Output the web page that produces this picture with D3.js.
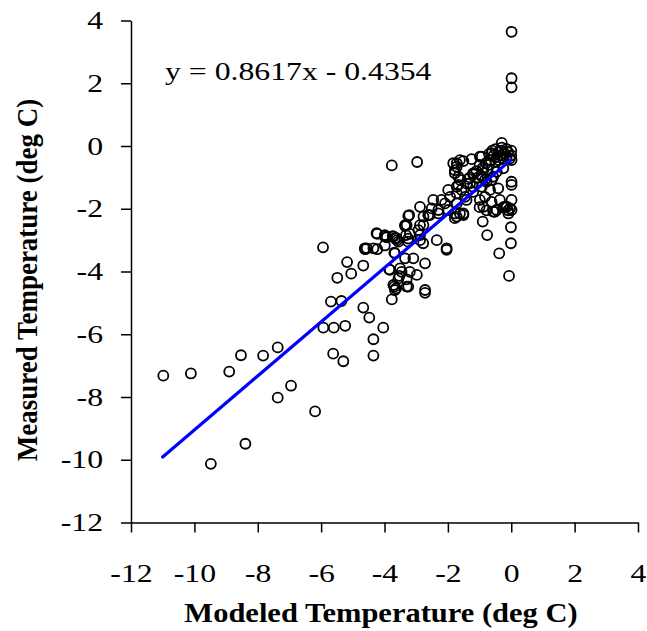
<!doctype html>
<head>
  <script src="https://cdn.jsdelivr.net/npm/d3@7/dist/d3.min.js" charset="utf-8"></script>
</head>

<style type="text/css">
  body { margin: 0; background: #fff; }
  text { font-family: 'Liberation Serif', 'Times New Roman', serif; fill: #000; }
  .axis path, .axis line { stroke: #000; stroke-width: 1.5px; }
  .tick_label { font-size: 25px; }
  .title { font-size: 27px; font-weight: bold; }
</style>

<body>
<svg width="647" height="631"></svg>
<script>

// data ---------------------------------------------------------------
var modeled = [
  -10.98, -10.11, -8.90, -8.53, -7.83, -7.37, -7.37, -6.95, -6.19, -8.39, -9.48,
  -5.62, -5.30, -5.93, -5.60, -5.24, -5.69, -5.36, -5.94, -5.18, -5.49, -5.05,
  -4.67, -4.61, -4.23, -4.23, -3.99, -3.93, -3.74, -3.60, -3.69, -3.35, -3.32, -3.46, -3.53, -3.69, -3.85, -3.77, -3.64, -3.30, -3.30,
  -4.67, -4.48, -4.04, -4.35, -4.35,
  -3.77, -2.97,
  0.01, 0.01, 0.01, -0.30,
  0.01, 0.01, 0.01, 0.01, -0.04, 0.01, -0.01, -0.01, -0.07, -0.38, -0.76, -0.90,
  -0.88, -0.57, -0.20, -1.72, -1.51, -2.04,
  -3.22, -3.30, -2.77, -2.57, -2.30, -1.78, -3.99, -3.67, -3.56, -3.25, -2.88, -2.35, -3.67, -3.35, -3.09, -2.72, -3.51, -3.20, -3.83, -2.98, -3.56, -3.25, -3.72, -3.67, -2.72, -2.72,
  -1.72, -1.51, -1.25, -0.93, -1.78, -1.67, -1.36, -1.67, -1.99, -1.57, -1.93, -1.41, -1.72, -2.46, -2.30, -2.88, -2.62, -3.25, -3.35, -2.88, -1.99, -1.78, -1.51,
  -1.00, -0.78, -0.52, -0.25, -0.10, -0.67, -0.41, -0.36, -0.78, -0.62,
  -4.25, -4.62, -4.35, -3.99, -3.72, -3.25, -3.20, -2.88, -2.78,
  -0.60, -0.50, -0.40, -0.30, -0.20, -0.10, 0.00, -0.55, -0.45, -0.35, -0.25, -0.15, -0.05, -0.65, -0.50, -0.40, -0.70, -0.30, -0.15, 0.00,
  -1.00, -0.90, -0.80, -0.75, -0.70, -1.10, -1.20, -1.30, -1.05, -0.95, -1.40, -1.20,
  -1.20, -1.46, -1.72, -1.09, -0.83, -0.57,
  -1.83, -1.62, -0.99, -0.62,
  -1.72, -1.78, -1.62, -1.72, -2.20, -2.09, -2.51, -2.77, -2.93, -3.62, -4.56, -2.04, -1.62,
  -0.99, -0.83, -0.62, -0.46, -0.14, -0.09, -0.93, -1.20, -0.88, -0.46, -0.25, -1.30
];

var measured = [
  -7.32, -7.25, -7.19, -6.67, -6.68, -6.42, -8.02, -7.64, -8.46, -9.49, -10.13,
  -6.62, -6.86, -5.79, -5.79, -5.73, -4.96, -4.94, -3.23, -3.70, -4.20, -4.07,
  -3.81, -3.29, -2.80, -3.29, -3.17, -2.91, -2.87, -3.00, -3.40, -2.55, -2.84, -4.01, -4.14, -4.48, -3.93, -4.89, -4.54, -4.48, -4.25,
  -5.15, -5.47, -5.79, -6.16, -6.68,
  -0.62, -0.51,
  3.64, 2.16, 1.87, 0.10,
  -0.45, -1.14, -1.24, -1.72, -1.99, -2.04, -2.59, -3.10, -4.14, -3.42, -2.84, -2.41,
  -1.94, -2.09, -1.94, -2.25, -2.15, -3.31,
  -2.20, -2.52, -2.52, -2.20, -2.15, -2.30, -2.84, -2.94, -3.05, -3.05, -2.84, -3.00, -3.42, -3.58, -3.58, -3.74, -3.90, -4.01, -3.95, -4.11, -4.22, -4.48, -4.43, -4.59, -4.59, -4.68,
  -0.55, -0.48, -0.42, -0.34, -0.77, -0.98, -1.05, -1.24, -1.40, -1.40, -1.62, -1.72, -1.83, -1.72, -2.04, -1.94, -2.20, -2.23, -2.52, -2.52, -2.04, -2.15, -2.20,
  -1.95, -2.05, -2.10, -1.95, -2.05, -1.40, -1.35, -1.72, -1.14, -1.08,
  -2.78, -3.26, -3.26, -2.89, -2.89, -2.95, -2.80, -3.00, -3.10,
  -0.15, -0.10, -0.20, -0.15, -0.25, -0.20, -0.30, -0.30, -0.35, -0.30, -0.40, -0.35, -0.40, -0.45, -0.50, -0.45, -0.25, -0.05, -0.10, -0.15,
  -0.60, -0.70, -0.55, -0.75, -0.60, -0.80, -0.90, -1.00, -1.00, -0.95, -1.20, -1.30,
  -1.46, -1.62, -1.51, -1.19, -1.08, -0.98,
  -0.55, -0.45, -0.34, -0.23,
  -0.66, -0.87, -1.08, -1.30, -1.72, -1.83, -1.99, -2.25, -2.68, -2.94, -3.26, -3.26, -2.15,
  -1.72, -1.62, -1.78, -2.04, -1.94, -2.15, -1.30, -0.87, -0.76, -0.82, -0.71, -1.19
];

var xTicks = [-12, -10, -8, -6, -4, -2, 0, 2, 4];
var yTicks = [-12, -10, -8, -6, -4, -2, 0, 2, 4];

// trend line y = slope * x + intercept, drawn over the modeled range
var slope = 0.8617;
var intercept = -0.4354;
var trendX = [-11, 0];
var equation = "y = 0.8617x - 0.4354";

var xTitle = "Modeled Temperature (deg C)";
var yTitle = "Measured Temperature (deg C)";

// helpers ------------------------------------------------------------
var stretch = 1.27;      // text in the original is drawn wide
var titleStretch = 1.13;
var plainMinus = function(d) { return String(d); };  // "-12", not the unicode minus

var svg = d3.select("svg");

var x = d3.scaleLinear().domain([-12, 4]).range([131, 638]);
var y = d3.scaleLinear().domain([-12, 4]).range([522.5, 20.5]);

// axes
var xAxis = svg.append("g").classed("axis", true)
  .attr("transform", "translate(0," + y(-12) + ")")
  .call(d3.axisBottom(x).tickValues(xTicks).tickSize(10).tickSizeOuter(0).tickFormat(plainMinus));

xAxis.selectAll("text")
  .classed("tick_label", true)
  .attr("y", 42)
  .attr("transform", "scale(" + stretch + ",1)");

var yAxis = svg.append("g").classed("axis", true)
  .attr("transform", "translate(" + x(-12) + ",0)")
  .call(d3.axisLeft(y).tickValues(yTicks).tickSize(10).tickSizeOuter(0).tickFormat(plainMinus));

yAxis.selectAll("text")
  .classed("tick_label", true)
  .attr("x", -28 / stretch)
  .attr("transform", "scale(" + stretch + ",1)");

svg.selectAll(".axis text").style("font-family", "'Liberation Serif', 'Times New Roman', serif")
  .style("font-size", "25px").style("fill", "#000");

// points
var points = d3.zip(modeled, measured);

svg.append("g").selectAll("circle")
  .data(points)
  .join("circle")
  .attr("cx", function(d) { return x(d[0]); })
  .attr("cy", function(d) { return y(d[1]); })
  .attr("r", 5)
  .style("fill", "none")
  .style("stroke", "#000")
  .style("stroke-width", "1.8px");

// trend line
svg.append("line")
  .attr("x1", x(trendX[0])).attr("y1", y(slope * trendX[0] + intercept))
  .attr("x2", x(trendX[1])).attr("y2", y(slope * trendX[1] + intercept))
  .style("stroke", "#0000FF")
  .style("stroke-width", "3.2px")
  .style("stroke-linecap", "round");

// equation
svg.append("text")
  .attr("transform", "translate(165,80) scale(" + stretch + ",1)")
  .style("font-size", "25px")
  .text(equation);

// titles
svg.append("text").classed("title", true)
  .attr("transform", "translate(" + 381 + ",622) scale(" + titleStretch + ",1)")
  .attr("text-anchor", "middle")
  .text(xTitle);

svg.append("text").classed("title", true)
  .attr("transform", "translate(37," + 280 + ") scale(" + titleStretch + ",1) rotate(-90)")
  .attr("text-anchor", "middle")
  .text(yTitle);

</script>
</body>
